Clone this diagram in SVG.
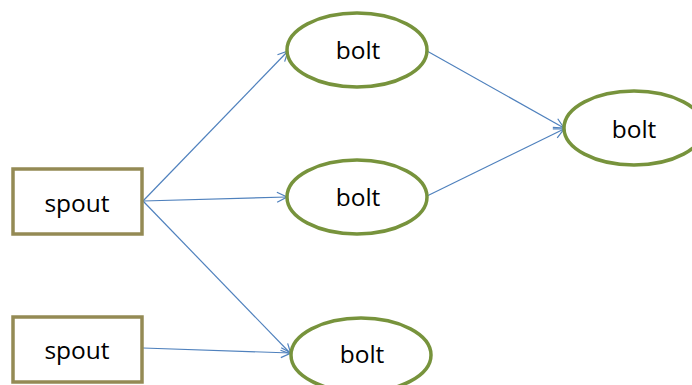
<svg xmlns="http://www.w3.org/2000/svg" width="692" height="385" viewBox="0 0 692 385">
<defs>
<style>
.spout{fill:#fff;stroke:#948A54;stroke-width:3.5}
.bolt{fill:#fff;stroke:#77933C;stroke-width:3.5}
.lbl{font-family:"Open Sans","Liberation Sans",sans-serif;font-size:24.5px;fill:#000;text-anchor:middle;dominant-baseline:central}
.edge{stroke:#4F81BD;stroke-width:1.2;fill:none;marker-end:url(#arr)}
</style>
<marker id="arr" viewBox="0 0 12 12" refX="11" refY="6" markerWidth="12" markerHeight="12" markerUnits="userSpaceOnUse" orient="auto">
<path d="M1,1 L11,6 L1,11" fill="none" stroke="#4F81BD" stroke-width="1.2"/>
</marker>
</defs>
<g id="connectors">
<line class="edge" x1="143" y1="201" x2="288" y2="51"/>
<line class="edge" x1="143" y1="201" x2="287" y2="197"/>
<line class="edge" x1="143" y1="201" x2="291" y2="354"/>
<line class="edge" x1="143" y1="348" x2="291" y2="353"/>
<line class="edge" x1="427" y1="51" x2="564" y2="128"/>
<line class="edge" x1="427" y1="196" x2="564" y2="129"/>
</g>
<g id="spout1"><rect class="spout" x="13" y="169" width="129" height="65"/><text class="lbl" x="77" y="202">spout</text></g>
<g id="spout2"><rect class="spout" x="13" y="317" width="129" height="65"/><text class="lbl" x="77" y="349">spout</text></g>
<g id="bolt1"><ellipse class="bolt" cx="357" cy="50" rx="70" ry="37"/><text class="lbl" x="358" y="49">bolt</text></g>
<g id="bolt2"><ellipse class="bolt" cx="357" cy="197" rx="70" ry="37"/><text class="lbl" x="358" y="196">bolt</text></g>
<g id="bolt3"><ellipse class="bolt" cx="361" cy="355" rx="70" ry="37"/><text class="lbl" x="362" y="353">bolt</text></g>
<g id="bolt4"><ellipse class="bolt" cx="634" cy="128" rx="70" ry="37"/><text class="lbl" x="634" y="128">bolt</text></g>
</svg>
